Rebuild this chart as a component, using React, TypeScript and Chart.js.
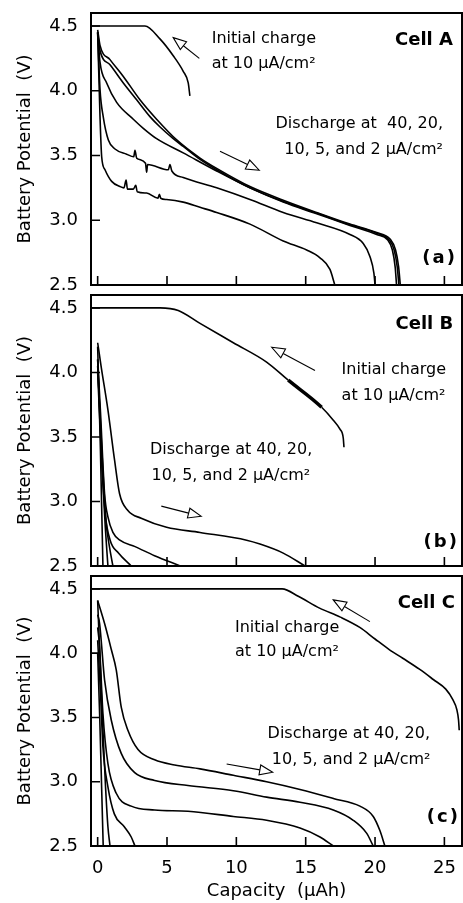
import React, { useEffect, useRef } from 'react';
import { Chart, registerables } from 'chart.js';
Chart.register(...registerables);

const FONT = '"DejaVu Sans", "Liberation Sans", sans-serif';

// ---- axes ----
const xTicks = [0, 5, 10, 15, 20, 25];
const xTickLabels = ['0', '5', '10', '15', '20', '25'];
const yTicks = [2.5, 3.0, 3.5, 4.0, 4.5];
const yTickLabels = ['2.5', '3.0', '3.5', '4.0', '4.5'];
const X_MIN = -0.48;
const X_MAX = 26.27;
const Y_MIN = 2.5;
const Y_MAX = 4.6;

// ---- Cell A ----
const cellA_charge_x = [-0.5, 3.41, 4.49, 5.45, 6.17, 6.53, 6.65];
const cellA_charge_y = [4.5, 4.5, 4.4, 4.27, 4.15, 4.06, 3.96];
const cellA_d40_x = [0, 0.17, 0.29, 0.53, 1.01, 1.61, 1.9, 2.05, 2.15, 2.57, 2.75, 2.85, 3.53, 4.35, 4.45, 4.55, 4.97, 6.17, 7.38, 8.58, 10.98, 13.38, 15.07, 16.03, 16.75, 17.1];
const cellA_d40_y = [4.45, 3.8, 3.49, 3.39, 3.3, 3.26, 3.25, 3.31, 3.24, 3.24, 3.27, 3.22, 3.21, 3.17, 3.2, 3.17, 3.16, 3.14, 3.1, 3.06, 2.97, 2.84, 2.77, 2.71, 2.62, 2.5];
const cellA_d20_x = [0, 0.17, 0.4, 0.77, 1.25, 2.09, 2.6, 2.69, 2.81, 3.45, 3.53, 3.6, 5.1, 5.21, 5.35, 6.17, 8.58, 10.98, 13.38, 15.79, 18.19, 19.15, 19.63, 19.92, 20.0];
const cellA_d20_y = [4.45, 4.01, 3.8, 3.62, 3.55, 3.51, 3.49, 3.54, 3.48, 3.44, 3.37, 3.43, 3.39, 3.43, 3.38, 3.33, 3.25, 3.16, 3.06, 2.98, 2.89, 2.82, 2.72, 2.59, 2.5];
const cellA_d10_x = [0, 0.17, 0.65, 1.37, 2.57, 3.29, 4.25, 6.17, 8.58, 10.98, 13.38, 15.79, 18.19, 20.12, 20.9, 21.25, 21.45, 21.55];
const cellA_d10_y = [4.45, 4.22, 4.06, 3.91, 3.78, 3.71, 3.63, 3.52, 3.38, 3.25, 3.14, 3.05, 2.96, 2.89, 2.85, 2.77, 2.64, 2.5];
const cellA_d5_x = [0, 0.17, 0.89, 1.85, 2.81, 3.77, 4.5, 5.45, 6.17, 7.38, 8.58, 10.98, 13.38, 15.79, 18.19, 20.12, 21.0, 21.38, 21.6, 21.72];
const cellA_d5_y = [4.45, 4.31, 4.2, 4.06, 3.93, 3.8, 3.72, 3.63, 3.57, 3.47, 3.39, 3.25, 3.145, 3.055, 2.965, 2.9, 2.85, 2.77, 2.64, 2.5];
const cellA_d2_x = [0, 0.17, 0.89, 1.85, 3.05, 4.25, 5.7, 7.38, 8.58, 10.98, 13.38, 15.79, 18.19, 20.12, 21.08, 21.48, 21.7, 21.82];
const cellA_d2_y = [4.47, 4.35, 4.24, 4.11, 3.93, 3.78, 3.62, 3.48, 3.4, 3.26, 3.155, 3.06, 2.97, 2.905, 2.855, 2.77, 2.64, 2.5];

// ---- Cell B ----
const cellB_charge_x = [-0.5, 4.5, 5.81, 7.38, 9.78, 12.18, 13.74, 16.15, 16.99, 17.47, 17.71, 17.76];
const cellB_charge_y = [4.5, 4.5, 4.48, 4.38, 4.23, 4.08, 3.94, 3.73, 3.63, 3.56, 3.49, 3.42];
const cellB_d2_x = [0, 0.26, 0.74, 1.22, 1.58, 2.18, 3.14, 4.97, 7.38, 10.74, 11.7, 13.38, 14.95];
const cellB_d2_y = [4.23, 4.04, 3.71, 3.32, 3.06, 2.93, 2.87, 2.8, 2.76, 2.7, 2.67, 2.6, 2.5];
const cellB_d5_x = [0, 0.2, 0.5, 0.74, 1.1, 1.6, 2.7, 4.1, 5.95];
const cellB_d5_y = [4.1, 3.7, 3.06, 2.88, 2.76, 2.7, 2.65, 2.58, 2.5];
const cellB_d10_x = [0, 0.3, 0.55, 0.9, 1.5, 2.42];
const cellB_d10_y = [4.0, 3.3, 2.9, 2.7, 2.6, 2.5];
const cellB_d20_x = [0, 0.3, 0.6, 0.85, 1.1];
const cellB_d20_y = [4.05, 3.4, 2.85, 2.65, 2.5];
const cellB_d40_x = [0, 0.3, 0.55, 0.74];
const cellB_d40_y = [4.1, 3.3, 2.8, 2.5];
const cellB_extra_x = [0, 0.2, 0.38];
const cellB_extra_y = [4.2, 3.4, 2.5];

// ---- Cell C ----
const cellC_charge_x = [-0.5, 13.3, 14.5, 16.0, 17.5, 18.9, 20.0, 21.0, 22.0, 23.2, 24.2, 25.1, 25.6, 25.9, 26.02, 26.07];
const cellC_charge_y = [4.5, 4.5, 4.44, 4.35, 4.28, 4.2, 4.11, 4.03, 3.96, 3.875, 3.795, 3.72, 3.64, 3.56, 3.48, 3.4];
const cellC_d2_x = [0, 0.5, 0.98, 1.34, 1.7, 2.18, 2.91, 4.11, 5.55, 7.38, 9.78, 12.18, 14.59, 16.99, 18.91, 19.87, 20.35, 20.71];
const cellC_d2_y = [4.41, 4.23, 4.03, 3.87, 3.58, 3.4, 3.25, 3.17, 3.13, 3.1, 3.05, 3.0, 2.94, 2.87, 2.81, 2.73, 2.62, 2.5];
const cellC_d5_x = [0, 0.14, 0.5, 0.98, 1.7, 2.67, 4.11, 6.51, 9.78, 12.18, 14.59, 16.99, 18.43, 19.39, 19.87];
const cellC_d5_y = [4.3, 4.23, 3.79, 3.48, 3.22, 3.07, 3.01, 2.97, 2.93, 2.88, 2.84, 2.78, 2.7, 2.6, 2.5];
const cellC_d10_x = [0, 0.14, 0.38, 0.74, 1.34, 2.42, 4.11, 6.51, 9.78, 12.18, 14.59, 16.03, 16.99];
const cellC_d10_y = [4.2, 4.05, 3.53, 3.14, 2.91, 2.81, 2.78, 2.77, 2.73, 2.7, 2.64, 2.57, 2.5];
const cellC_d20_x = [0, 0.2, 0.38, 0.74, 1.2, 1.92, 2.42, 2.69];
const cellC_d20_y = [4.1, 3.7, 3.27, 2.96, 2.75, 2.65, 2.57, 2.5];
const cellC_d40_x = [0, 0.3, 0.55, 0.74, 0.89];
const cellC_d40_y = [4.41, 3.6, 3.0, 2.65, 2.5];
const cellC_extra_x = [0, 0.15, 0.3, 0.4];
const cellC_extra_y = [4.0, 3.5, 2.9, 2.5];

// ---- texts ----
const chargeText = ['Initial charge', 'at 10 μA/cm²'];
const dischargeTextA = ['Discharge at  40, 20,', '10, 5, and 2 μA/cm²'];
const dischargeText = ['Discharge at 40, 20,', '10, 5, and 2 μA/cm²'];
const yTitle = 'Battery Potential  (V)';
const xTitle = 'Capacity  (μAh)';

type Txt = { x: number; y: number; text: string; align: 'left' | 'right'; bold?: boolean; size: number; spacing?: string };
type Arr = { x0: number; y0: number; x1: number; y1: number };
type Curve = { xs: number[]; ys: number[]; thick?: [number, number] };
type PanelCfg = {
  key: string; top: number; height: number; padTop: number; padBottom: number; xAxisHeight: number; showX: boolean;
  curves: Curve[]; texts: Txt[]; arrows: Arr[];
};

const panels: PanelCfg[] = [
  {
    key: 'A', top: 0, height: 290, padTop: 13, padBottom: 5, xAxisHeight: 0, showX: false,
    curves: [
      { xs: cellA_charge_x, ys: cellA_charge_y },
      { xs: cellA_d40_x, ys: cellA_d40_y },
      { xs: cellA_d20_x, ys: cellA_d20_y },
      { xs: cellA_d10_x, ys: cellA_d10_y },
      { xs: cellA_d5_x, ys: cellA_d5_y },
      { xs: cellA_d2_x, ys: cellA_d2_y },
    ],
    texts: [
      { x: 25.62, y: 4.388, text: 'Cell A', align: 'right', bold: true, size: 18 },
      { x: 25.9, y: 2.709, text: '(a)', align: 'right', bold: true, size: 18, spacing: '2px' },
      { x: 8.22, y: 4.4, text: chargeText[0], align: 'left', size: 16 },
      { x: 8.22, y: 4.205, text: chargeText[1], align: 'left', size: 16 },
      { x: 24.9, y: 3.748, text: dischargeTextA[0], align: 'right', size: 16 },
      { x: 24.9, y: 3.547, text: dischargeTextA[1], align: 'right', size: 16 },
    ],
    arrows: [
      { x0: 7.33, y0: 4.25, x1: 5.45, y1: 4.41 },
      { x0: 8.82, y0: 3.533, x1: 11.65, y1: 3.386 },
    ],
  },
  {
    key: 'B', top: 290, height: 281, padTop: 5, padBottom: 5, xAxisHeight: 0, showX: false,
    curves: [
      { xs: cellB_charge_x, ys: cellB_charge_y, thick: [13.7, 16.2] },
      { xs: cellB_d2_x, ys: cellB_d2_y },
      { xs: cellB_d5_x, ys: cellB_d5_y },
      { xs: cellB_d10_x, ys: cellB_d10_y },
      { xs: cellB_d20_x, ys: cellB_d20_y },
      { xs: cellB_d40_x, ys: cellB_d40_y },
      { xs: cellB_extra_x, ys: cellB_extra_y },
    ],
    texts: [
      { x: 25.64, y: 4.371, text: 'Cell B', align: 'right', bold: true, size: 18 },
      { x: 26.05, y: 2.683, text: '(b)', align: 'right', bold: true, size: 18, spacing: '2px' },
      { x: 17.59, y: 4.022, text: chargeText[0], align: 'left', size: 16 },
      { x: 17.59, y: 3.821, text: chargeText[1], align: 'left', size: 16 },
      { x: 3.77, y: 3.403, text: dischargeText[0], align: 'left', size: 16 },
      { x: 3.89, y: 3.2, text: dischargeText[1], align: 'left', size: 16 },
    ],
    arrows: [
      { x0: 15.67, y0: 4.015, x1: 12.55, y1: 4.195 },
      { x0: 4.59, y0: 2.964, x1: 7.47, y1: 2.885 },
    ],
  },
  {
    key: 'C', top: 571, height: 332, padTop: 5, padBottom: 0, xAxisHeight: 57, showX: true,
    curves: [
      { xs: cellC_charge_x, ys: cellC_charge_y },
      { xs: cellC_d2_x, ys: cellC_d2_y },
      { xs: cellC_d5_x, ys: cellC_d5_y },
      { xs: cellC_d10_x, ys: cellC_d10_y },
      { xs: cellC_d20_x, ys: cellC_d20_y },
      { xs: cellC_d40_x, ys: cellC_d40_y },
      { xs: cellC_extra_x, ys: cellC_extra_y },
    ],
    texts: [
      { x: 25.76, y: 4.391, text: 'Cell C', align: 'right', bold: true, size: 18 },
      { x: 26.12, y: 2.726, text: '(c)', align: 'right', bold: true, size: 18, spacing: '2px' },
      { x: 9.9, y: 4.197, text: chargeText[0], align: 'left', size: 16 },
      { x: 9.9, y: 4.01, text: chargeText[1], align: 'left', size: 16 },
      { x: 23.96, y: 3.372, text: dischargeText[0], align: 'right', size: 16 },
      { x: 24.0, y: 3.169, text: dischargeText[1], align: 'right', size: 16 },
    ],
    arrows: [
      { x0: 19.63, y0: 4.245, x1: 16.99, y1: 4.414 },
      { x0: 9.3, y0: 3.138, x1: 12.62, y1: 3.074 },
    ],
  },
];

function drawArrow(ctx: CanvasRenderingContext2D, x0: number, y0: number, x1: number, y1: number) {
  const ang = Math.atan2(y1 - y0, x1 - x0);
  const L = 13, W = 5;
  const bx = x1 - L * Math.cos(ang), by = y1 - L * Math.sin(ang);
  ctx.lineWidth = 1.1;
  ctx.beginPath();
  ctx.moveTo(x0, y0);
  ctx.lineTo(bx, by);
  ctx.stroke();
  const nx = -Math.sin(ang), ny = Math.cos(ang);
  ctx.beginPath();
  ctx.moveTo(x1, y1);
  ctx.lineTo(bx + nx * W, by + ny * W);
  ctx.lineTo(bx - nx * W, by - ny * W);
  ctx.closePath();
  ctx.fillStyle = '#fff';
  ctx.fill();
  ctx.stroke();
}

function makeDecor(cfg: PanelCfg) {
  return {
    id: 'decor' + cfg.key,
    afterDraw(chart: any) {
      const { ctx, chartArea: ca, scales } = chart;
      const xs = scales.x, ys = scales.y;
      ctx.save();
      ctx.strokeStyle = '#000';
      ctx.lineWidth = 2;
      ctx.strokeRect(ca.left, ca.top, ca.right - ca.left, ca.bottom - ca.top);
      ctx.lineWidth = 1.6;
      ctx.beginPath();
      for (const v of xTicks) {
        const px = xs.getPixelForValue(v);
        ctx.moveTo(px, ca.bottom);
        ctx.lineTo(px, ca.bottom - 9);
      }
      for (const v of yTicks.slice(1)) {
        const py = ys.getPixelForValue(v);
        ctx.moveTo(ca.left, py);
        ctx.lineTo(ca.left + 9, py);
      }
      ctx.stroke();
      for (const a of cfg.arrows) {
        drawArrow(ctx, xs.getPixelForValue(a.x0), ys.getPixelForValue(a.y0), xs.getPixelForValue(a.x1), ys.getPixelForValue(a.y1));
      }
      ctx.fillStyle = '#000';
      ctx.textBaseline = 'middle';
      for (const t of cfg.texts) {
        ctx.font = `${t.bold ? 'bold ' : ''}${t.size}px ${FONT}`;
        ctx.textAlign = t.align;
        (ctx as any).letterSpacing = t.spacing || '0px';
        ctx.fillText(t.text, xs.getPixelForValue(t.x), ys.getPixelForValue(t.y));
      }
      (ctx as any).letterSpacing = '0px';
      ctx.restore();
    },
  };
}

function Panel({ cfg }: { cfg: PanelCfg }) {
  const ref = useRef<HTMLCanvasElement>(null);
  useEffect(() => {
    const datasets = cfg.curves.map((c) => ({
      data: c.xs.map((x, i) => ({ x, y: c.ys[i] })),
      borderColor: '#000',
      borderWidth: 1.6,
      pointRadius: 0,
      fill: false,
      cubicInterpolationMode: 'monotone' as const,
      segment: c.thick
        ? { borderWidth: (s: any) => (s.p0.parsed.x >= c.thick![0] && s.p1.parsed.x <= c.thick![1] ? 3.5 : 1.6) }
        : undefined,
    }));
    const chart = new Chart(ref.current!, {
      type: 'line',
      data: { datasets },
      plugins: [makeDecor(cfg)],
      options: {
        animation: false,
        responsive: false,
        devicePixelRatio: 1,
        layout: { padding: { top: cfg.padTop, bottom: cfg.padBottom, left: 0, right: 1 } },
        plugins: { legend: { display: false }, tooltip: { enabled: false } },
        scales: {
          x: {
            type: 'linear',
            min: X_MIN,
            max: X_MAX,
            display: cfg.showX,
            grid: { display: false, drawTicks: false },
            border: { display: false },
            afterBuildTicks: (s: any) => { s.ticks = xTicks.map((v) => ({ value: v })); },
            afterFit: (s: any) => { s.height = cfg.xAxisHeight; s.paddingLeft = 0; s.paddingRight = 0; },
            ticks: {
              color: '#000',
              padding: 12,
              maxRotation: 0,
              autoSkip: false,
              font: { family: FONT, size: 18 },
              callback: (v: any) => xTickLabels[xTicks.indexOf(Number(v))] ?? '',
            },
            title: {
              display: cfg.showX,
              text: xTitle,
              color: '#000',
              font: { family: FONT, size: 18 },
              padding: { top: 0, bottom: 1 },
            },
          },
          y: {
            type: 'linear',
            min: Y_MIN,
            max: Y_MAX,
            grid: { display: false, drawTicks: false },
            border: { display: false },
            afterBuildTicks: (s: any) => { s.ticks = yTicks.map((v) => ({ value: v })); },
            afterFit: (s: any) => { s.width = 91; s.paddingTop = 0; s.paddingBottom = 0; },
            ticks: {
              color: '#000',
              padding: 13,
              autoSkip: false,
              font: { family: FONT, size: 18 },
              callback: (v: any) => yTickLabels[yTicks.indexOf(Number(v))] ?? '',
            },
            title: {
              display: true,
              text: yTitle,
              color: '#000',
              font: { family: FONT, size: 18 },
              padding: { top: 15, bottom: 0 },
            },
          },
        },
      } as any,
    });
    return () => chart.destroy();
  }, []);
  return (
    <div style={{ position: 'absolute', left: 0, top: cfg.top, width: 463, height: cfg.height }}>
      <canvas ref={ref} width={463} height={cfg.height} style={{ display: 'block', width: 463, height: cfg.height }} />
    </div>
  );
}

export default function App() {
  return (
    <div style={{ position: 'absolute', left: 0, top: 0, width: 463, height: 903, background: '#fff' }}>
      {panels.map((p) => (
        <Panel key={p.key} cfg={p} />
      ))}
    </div>
  );
}
